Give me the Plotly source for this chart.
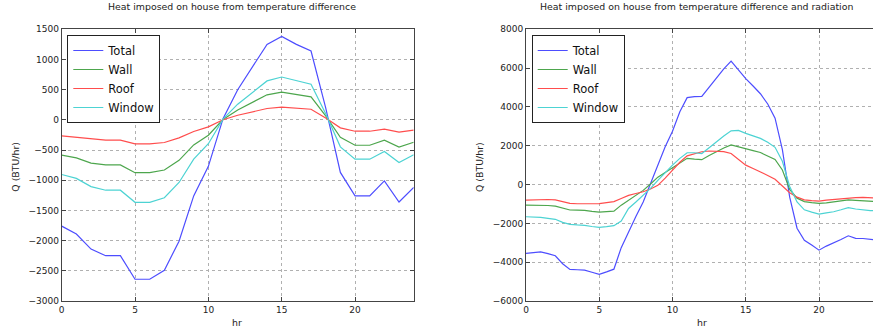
import plotly.graph_objects as go

# ---------------- data ----------------
hours_left = list(range(25))
total_left = [-1760, -1890, -2140, -2250, -2250, -2640, -2640, -2490, -2010, -1260, -770, 20,
              500, 880, 1250, 1380, 1250, 1140, 200, -870, -1260, -1260, -1010, -1360, -1120]
wall_left = [-585, -630, -715, -745, -745, -875, -875, -830, -670, -415, -255, 5,
             165, 295, 415, 460, 415, 380, 65, -290, -420, -420, -335, -450, -370]
roof_left = [-265, -287, -320, -336, -336, -397, -397, -375, -298, -193, -116, 3,
             77, 132, 188, 210, 188, 176, 30, -132, -188, -188, -154, -204, -171]
window_left = [-905, -970, -1105, -1165, -1165, -1365, -1365, -1290, -1037, -650, -395, 12,
               260, 450, 645, 710, 645, 590, 100, -447, -651, -651, -524, -706, -579]

hours_right = [i * 0.5 for i in range(49)]
total_right = [-3550, -3510, -3470, -3560, -3670, -4080, -4370, -4390, -4410, -4520,
               -4630, -4500, -4360, -3250, -2420, -1650, -900, 20, 1000, 1950,
               2750, 3750, 4480, 4530, 4540, 5000, 5520, 5960, 6360, 5900,
               5460, 5080, 4680, 4150, 3420, 1800, -650, -2250, -2870, -3120,
               -3380, -3170, -3020, -2830, -2640, -2770, -2780, -2840, -2860]
wall_right = [-1060, -1060, -1055, -1080, -1110, -1220, -1310, -1320, -1330, -1380,
              -1420, -1390, -1370, -1060, -820, -560, -300, 30, 380, 620,
              860, 1110, 1350, 1310, 1280, 1500, 1700, 1880, 2040, 1930,
              1840, 1750, 1650, 1490, 1290, 750, -250, -700, -880, -930,
              -970, -940, -900, -850, -790, -810, -830, -860, -880]
roof_right = [-800, -780, -760, -770, -790, -900, -970, -990, -1000, -990,
              -980, -940, -880, -720, -560, -460, -370, -230, -40, 330,
              750, 1150, 1480, 1600, 1690, 1730, 1730, 1700, 1600, 1280,
              1000, 830, 660, 470, 270, -80, -420, -650, -790, -830,
              -850, -800, -760, -720, -680, -670, -660, -670, -700]
window_right = [-1660, -1670, -1690, -1740, -1790, -1950, -2050, -2080, -2100, -2160,
                -2210, -2170, -2120, -1880, -1230, -900, -560, -200, 220, 620,
                1000, 1350, 1640, 1640, 1600, 1900, 2210, 2500, 2770, 2790,
                2640, 2520, 2380, 2180, 1920, 1200, -100, -900, -1300, -1420,
                -1520, -1460, -1400, -1300, -1190, -1260, -1310, -1340, -1350]

series_names = ["Total", "Wall", "Roof", "Window"]
series_colors = ["#4d4dff", "#4da64d", "#ff4d4d", "#4dd3d3"]

x_ticks = [0, 5, 10, 15, 20]
y_ticks_left = [-3000, -2500, -2000, -1500, -1000, -500, 0, 500, 1000, 1500]
y_ticks_right = [-6000, -4000, -2000, 0, 2000, 4000, 6000, 8000]

left_title = "Heat imposed on house from temperature difference"
right_title = "Heat imposed on house from temperature difference and radiation"
x_label = "hr"
y_label = "Q (BTU/hr)"


def lab(v):
    return str(v).replace("-", "\u2212")


W, H = 873, 335
FONT = "DejaVu Sans"

fig = go.Figure()

left_sets = [total_left, wall_left, roof_left, window_left]
right_sets = [total_right, wall_right, roof_right, window_right]
for name, col, ys in zip(series_names, series_colors, left_sets):
    fig.add_trace(go.Scatter(x=hours_left, y=ys, mode="lines", name=name,
                             line=dict(color=col, width=1.2),
                             xaxis="x", yaxis="y", legend="legend"))
for name, col, ys in zip(series_names, series_colors, right_sets):
    fig.add_trace(go.Scatter(x=hours_right, y=ys, mode="lines", name=name,
                             line=dict(color=col, width=1.2),
                             xaxis="x2", yaxis="y2", legend="legend2"))

ydom = [1 - 301 / H, 1 - 29.3 / H]
axis_common = dict(showgrid=True, gridcolor="#b0b0b0", griddash="dot", gridwidth=1,
                   zeroline=False, showline=True, linecolor="#444444", linewidth=1,
                   ticks="inside", ticklen=4, tickcolor="#444444",
                   tickfont=dict(family=FONT, size=9, color="#222222"))

fig.update_layout(
    width=W, height=H,
    margin=dict(l=0, r=0, t=0, b=0, autoexpand=False),
    paper_bgcolor="white", plot_bgcolor="white",
    font=dict(family=FONT, color="#222222"),
    xaxis=dict(domain=[61.7 / W, 413.7 / W], range=[0, 24], anchor="y",
               tickvals=x_ticks, ticktext=[lab(v) for v in x_ticks],
               mirror="ticks", **axis_common),
    yaxis=dict(domain=ydom, range=[-3000, 1500], anchor="x",
               tickvals=y_ticks_left, ticktext=[lab(v) for v in y_ticks_left],
               mirror="ticks", **axis_common),
    xaxis2=dict(domain=[526 / W, 1.0], range=[0, (873 - 526) / 14.65], anchor="y2",
                tickvals=x_ticks, ticktext=[lab(v) for v in x_ticks],
                mirror="ticks", **axis_common),
    yaxis2=dict(domain=ydom, range=[-6000, 8000], anchor="x2",
                tickvals=y_ticks_right, ticktext=[lab(v) for v in y_ticks_right],
                mirror=False, **axis_common),
    legend=dict(x=67.3 / W, y=1 - 35 / H, xanchor="left", yanchor="top",
                bgcolor="white", bordercolor="#222222", borderwidth=1,
                font=dict(family=FONT, size=11.5, color="#111111"), tracegroupgap=0),
    legend2=dict(x=531.7 / W, y=1 - 35 / H, xanchor="left", yanchor="top",
                 bgcolor="white", bordercolor="#222222", borderwidth=1,
                 font=dict(family=FONT, size=11.5, color="#111111"), tracegroupgap=0),
    showlegend=True,
)

ann_font = dict(family=FONT, size=9.4, color="#222222")
fig.add_annotation(text=left_title, xref="paper", yref="paper", x=232 / W, y=1 - 7 / H,
                   xanchor="center", yanchor="middle", showarrow=False, font=ann_font)
fig.add_annotation(text=right_title, xref="paper", yref="paper", x=696 / W, y=1 - 7 / H,
                   xanchor="center", yanchor="middle", showarrow=False, font=ann_font)
for xc in (237 / W, 701.7 / W):
    fig.add_annotation(text=x_label, xref="paper", yref="paper", x=xc, y=1 - 322 / H,
                       xanchor="center", yanchor="middle", showarrow=False, font=ann_font)
for xc in (15.7 / W, 480 / W):
    fig.add_annotation(text=y_label, xref="paper", yref="paper", x=xc, y=1 - 167 / H,
                       xanchor="center", yanchor="middle", showarrow=False,
                       textangle=-90, font=ann_font)

fig.write_html("out.html")
